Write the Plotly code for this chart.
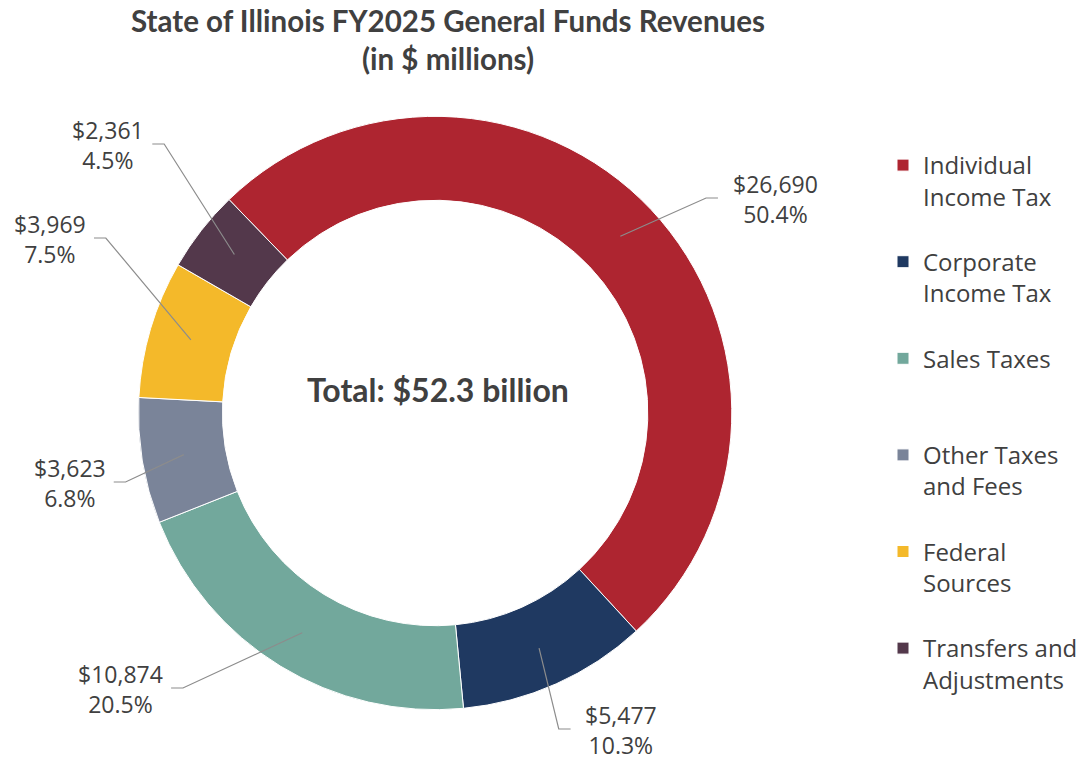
import math
import plotly.graph_objects as go

# ---------------- data ----------------
categories = ["Individual Income Tax", "Corporate Income Tax", "Sales Taxes",
              "Other Taxes and Fees", "Federal Sources", "Transfers and Adjustments"]
legend_lines = [["Individual", "Income Tax"], ["Corporate", "Income Tax"], ["Sales Taxes"],
                ["Other Taxes", "and Fees"], ["Federal", "Sources"], ["Transfers and", "Adjustments"]]
values = [26690, 5477, 10874, 3623, 3969, 2361]
title_text = "State of Illinois FY2025 General Funds Revenues<br>(in $ millions)"
center_text = "Total: $52.3 billion"

# ---------------- style ----------------
colors = ["#AE2530", "#1F3961", "#72A89C", "#7A8499", "#F4B92A", "#53384B"]
W, H = 1083, 759
CX, CY, R_OUT = 440, 413, 300  # page pixels
HOLE = 0.717
ROTATION = -44
TEXT_COLOR = "#404040"
LINE_COLOR = "#8C8C8C"
# label elbow positions (page pixels) and side (+1 text right, -1 text left)
label_elbows = [(714, 198, 1), (565, 729, 1), (185, 688, -1),
                (127, 482, -1), (107, 238, -1), (166, 144, -1)]
TAIL = 12
GAP = {1: 13, -1: 6}


def px(x):
    return x / W


def py(y):
    return 1 - y / H


total = sum(values)
legend_names = []
for lines in legend_lines:
    lines = list(lines) + ["&nbsp;"] * (3 - len(lines))
    legend_names.append("<br>".join(lines))

fig = go.Figure(go.Pie(
    labels=legend_names,
    values=values,
    hole=HOLE,
    sort=False,
    direction="clockwise",
    rotation=ROTATION,
    marker=dict(colors=colors, line=dict(color="white", width=1)),
    textinfo="none",
    hovertext=categories,
    hoverinfo="text+value+percent",
    domain=dict(x=[px(CX - R_OUT), px(CX + R_OUT)], y=[py(CY + R_OUT), py(CY - R_OUT)]),
))

# leader lines and labels computed from the slice angles
r_mid = R_OUT * (1 + HOLE) / 2
cum = 0
shapes, annotations = [], []
for v, (ex, ey, side) in zip(values, label_elbows):
    mid = math.radians(ROTATION + 360 * (cum + v / 2) / total)
    cum += v
    sx = CX + r_mid * math.sin(mid)
    sy = CY - r_mid * math.cos(mid)
    tx = ex + side * TAIL
    path = f"M {px(sx)},{py(sy)} L {px(ex)},{py(ey)} L {px(tx)},{py(ey)}"
    shapes.append(dict(type="path", path=path, xref="paper", yref="paper",
                       line=dict(color=LINE_COLOR, width=1.2)))
    annotations.append(dict(
        x=px(tx + side * GAP[side]), y=py(ey + 1), xref="paper", yref="paper",
        xanchor="left" if side > 0 else "right", yanchor="middle", align="center",
        text=f"${v:,}<br>{v / total * 100:.1f}%", showarrow=False,
        font=dict(family="Open Sans", size=23, color=TEXT_COLOR)))

annotations.append(dict(
    x=px(443), y=py(389), xref="paper", yref="paper", xanchor="center", yanchor="middle",
    text=center_text, showarrow=False,
    font=dict(family="Lato", size=32, color=TEXT_COLOR, weight="bold")))

fig.update_layout(
    width=W, height=H,
    paper_bgcolor="white", plot_bgcolor="white",
    margin=dict(l=0, r=0, t=0, b=0),
    title=dict(text=title_text, x=px(453), xanchor="center", xref="paper",
               y=py(32), yref="container", yanchor="middle",
               font=dict(family="Lato", size=29.5, color=TEXT_COLOR, weight="bold")),
    showlegend=True,
    legend=dict(x=px(893), xanchor="left", y=py(143), yanchor="top",
                valign="top", font=dict(family="Open Sans", size=24, color=TEXT_COLOR),
                bgcolor="rgba(0,0,0,0)", traceorder="normal"),
    shapes=shapes,
    annotations=annotations,
)

fig.write_html("out.html", config={"displayModeBar": False},
               post_script="document.body.style.margin='0';document.body.style.overflow='hidden';")
